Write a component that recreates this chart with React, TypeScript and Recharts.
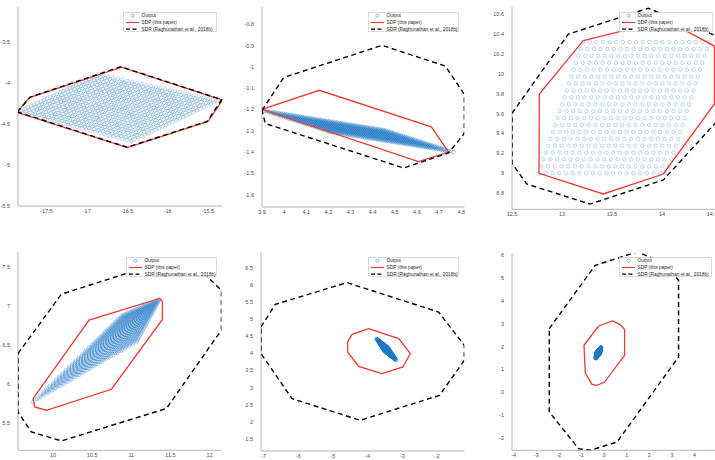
import { Scatter, ScatterChart, XAxis, YAxis } from 'recharts'

type Pt = [number, number]

// ---- panel 1 (top left)
const p1CloudCorners: Pt[] = [[-17.85, -4.355], [-16.45, -4.71], [-16.85, -3.9], [-15.38, -4.22]]
const p1CloudGrid = 26
const p1Sdp: Pt[] = [[-17.86, -4.36], [-17.71, -4.18], [-16.57, -3.81], [-15.32, -4.21], [-15.5, -4.47], [-16.5, -4.79]]
const p1Sdr: Pt[] = [[-17.86, -4.355], [-17.7, -4.175], [-16.58, -3.805], [-15.33, -4.205], [-15.51, -4.47], [-16.5, -4.785]]
const p1XTicks = [-17.5, -17, -16.5, -16, -15.5]
const p1YTicks = [-5.5, -5, -4.5, -4, -3.5]

// ---- panel 2 (top middle)
const p2CloudCorners: Pt[] = [[3.9, -1.203], [4.215, -1.308], [4.45, -1.295], [4.765, -1.4]]
const p2CloudGrid = 30
const p2Sdp: Pt[] = [[3.9, -1.2], [4.159, -1.11], [4.665, -1.282], [4.743, -1.4], [4.607, -1.445]]
const p2Sdr: Pt[] = [[3.9, -1.204], [3.998, -1.05], [4.442, -0.899], [4.728, -0.996], [4.814, -1.129], [4.814, -1.313], [4.743, -1.404], [4.54, -1.475], [3.915, -1.266]]
const p2XTicks = [3.9, 4, 4.1, 4.2, 4.3, 4.4, 4.5, 4.6, 4.7, 4.8]
const p2YTicks = [-1.6, -1.5, -1.4, -1.3, -1.2, -1.1, -1, -0.9, -0.8]

// ---- panel 3 (top right)
const p3CloudCorners: Pt[] = [[12.77, 9.0], [14.05, 9.0], [13.21, 10.32], [14.47, 10.32]]
const p3CloudGrid = 20
const p3Sdp: Pt[] = [[13.213, 10.334], [14.04, 10.54], [14.525, 10.28], [14.525, 9.7], [14.013, 8.993], [13.413, 8.792], [12.77, 9.0], [12.773, 9.798]]
const p3Sdr: Pt[] = [[12.5, 9.604], [13.063, 10.4], [13.863, 10.66], [14.62, 10.35], [14.62, 9.6], [14.013, 8.933], [13.28, 8.69], [12.647, 8.893], [12.5, 9.1]]
const p3XTicks = [12.5, 13, 13.5, 14, 14.5]
const p3YTicks = [8.8, 9, 9.2, 9.4, 9.6, 9.8, 10, 10.2, 10.4, 10.6]

// ---- panel 4 (bottom left)
const p4CloudCorners: Pt[] = [[9.745, 5.77], [11.065, 6.538], [10.873, 6.872], [11.363, 7.086]]
const p4CloudGrid = 28
const p4Sdp: Pt[] = [[9.745, 5.813], [10.46, 6.817], [11.363, 7.095], [11.397, 7.051], [11.397, 6.826], [10.746, 5.932], [9.915, 5.663], [9.766, 5.705]]
const p4Sdr: Pt[] = [[9.553, 6.39], [10.107, 7.15], [10.937, 7.415], [11.874, 7.467], [12.15, 7.2], [12.15, 6.69], [11.448, 5.685], [10.107, 5.27], [9.724, 5.385], [9.553, 5.64]]
const p4XTicks = [10, 10.5, 11, 11.5, 12]
const p4YTicks = [5.5, 6, 6.5, 7, 7.5]

// ---- panel 5 (bottom middle)
const p5CloudCorners: Pt[] = [[-3.75, 4.43], [-3.415, 4.165], [-3.515, 4.065], [-3.18, 3.8]]
const p5CloudGrid = 25
const p5Sdp: Pt[] = [[-3.971, 4.72], [-3.106, 4.43], [-2.772, 3.993], [-2.983, 3.603], [-3.588, 3.41], [-4.262, 3.622], [-4.579, 4.04], [-4.579, 4.33], [-4.452, 4.555]]
const p5Sdr: Pt[] = [[-7.075, 4.77], [-6.663, 5.43], [-4.597, 6.063], [-1.957, 5.205], [-1.216, 4.235], [-1.216, 3.797], [-1.928, 2.777], [-4.213, 2.048], [-6.182, 2.68], [-7.075, 3.993]]
const p5XTicks = [-7, -6, -5, -4, -3, -2]
const p5YTicks = [1.5, 2, 2.5, 3, 3.5, 4, 4.5, 5, 5.5, 6, 6.5]

// ---- panel 6 (bottom right)
const p6CloudCorners: Pt[] = [[-0.38, 1.48], [-0.185, 1.694], [-0.325, 1.766], [-0.13, 1.98]]
const p6CloudGrid = 25
const p6Sdp: Pt[] = [[-0.243, 2.903], [0.375, 3.122], [0.713, 2.964], [0.905, 2.745], [0.905, 1.62], [0.021, 0.45], [-0.315, 0.305], [-0.536, 0.35], [-0.832, 0.845], [-0.889, 2.058]]
const p6Sdr: Pt[] = [[-2.423, 2.79], [-0.39, 5.562], [1.453, 6.146], [2.558, 5.71], [3.29, 4.905], [3.29, 1.546], [0.569, -2.18], [-0.61, -2.54], [-1.127, -2.47], [-2.423, -0.86]]
const p6XTicks = [-4, -3, -2, -1, 0, 1, 2, 3, 4]
const p6YTicks = [-2, -1, 0, 1, 2, 3, 4, 5, 6]

const legendLabels = ['Output', 'SDP (this paper)', 'SDR (Raghunathan et al., 2018b)']

const RED = '#ee3a32'
const BLUE = '#1f77c4'
const FONT = '"Liberation Sans", Arial, sans-serif'

const rows = (pts: Pt[]) => pts.map(([x, y]) => ({ x, y }))
const closed = (pts: Pt[]) => rows([...pts, pts[0]])

function lattice(c: Pt[], n: number) {
  const out: { x: number; y: number }[] = []
  for (let i = 0; i < n; i++) {
    for (let j = 0; j < n; j++) {
      const u = i / (n - 1)
      const v = j / (n - 1)
      const w = [(1 - u) * (1 - v), u * (1 - v), (1 - u) * v, u * v]
      out.push({
        x: w[0] * c[0][0] + w[1] * c[1][0] + w[2] * c[2][0] + w[3] * c[3][0],
        y: w[0] * c[0][1] + w[1] * c[1][1] + w[2] * c[2][1] + w[3] * c[3][1],
      })
    }
  }
  return out
}

const ring = (p: any) => (
  <circle cx={p.cx} cy={p.cy} r={1.7} fill="none" stroke={BLUE} strokeWidth={0.5} strokeOpacity={0.6} />
)
const nothing = () => <g />

const YW = 30
const XH = 14
const MT = 4
const MR = 4

type PanelProps = {
  box: [number, number, number, number]
  xDomain: [number, number]
  yDomain: [number, number]
  xTicks: number[]
  yTicks: number[]
  corners: Pt[]
  grid: number
  sdp: Pt[]
  sdr: Pt[]
}

function Panel({ box, xDomain, yDomain, xTicks, yTicks, corners, grid, sdp, sdr }: PanelProps) {
  const [l, t, r, b] = box
  const width = r - l + YW + MR
  const height = b - t + MT + XH
  const tick = { fontSize: 5.5, fill: '#4d4d4d', fontFamily: FONT }
  return (
    <div style={{ position: 'absolute', left: l - YW, top: t - MT }}>
      <ScatterChart width={width} height={height} margin={{ top: MT, right: MR, bottom: 0, left: 0 }}>
        <XAxis
          type="number"
          dataKey="x"
          domain={xDomain}
          ticks={xTicks}
          allowDataOverflow
          interval={0}
          height={XH}
          stroke="#b5b5b5"
          tickLine={false}
          tickSize={2}
          tickMargin={1}
          tick={tick}
        />
        <YAxis
          type="number"
          dataKey="y"
          domain={yDomain}
          ticks={yTicks}
          allowDataOverflow
          interval={0}
          width={YW}
          stroke="#b5b5b5"
          tickLine={false}
          tickSize={5}
          tickMargin={3}
          tick={tick}
        />
        <Scatter data={lattice(corners, grid)} shape={ring} isAnimationActive={false} />
        <Scatter
          data={closed(sdp)}
          fill={RED}
          line={{ stroke: RED, strokeWidth: 1.3, fill: 'none' }}
          lineType="joint"
          shape={nothing}
          isAnimationActive={false}
        />
        <Scatter
          data={closed(sdr)}
          fill="#000"
          line={{ stroke: '#000', strokeWidth: 1.4, strokeDasharray: '5 3.5', fill: 'none' }}
          lineType="joint"
          shape={nothing}
          isAnimationActive={false}
        />
      </ScatterChart>
    </div>
  )
}

function Key({ left, top, width }: { left: number; top: number; width: number }) {
  const h = 20
  const ys = [3.7, 10.5, 17.2]
  return (
    <svg style={{ position: 'absolute', left, top }} width={width} height={h}>
      <rect x={0.5} y={0.5} width={width - 1} height={h - 1} fill="#fff" stroke="#c4c4c4" strokeWidth={0.6} />
      <circle cx={9.5} cy={ys[0]} r={1.6} fill="none" stroke={BLUE} strokeWidth={0.5} />
      <line x1={3} x2={16} y1={ys[1]} y2={ys[1]} stroke={RED} strokeWidth={1.2} />
      <line x1={3} x2={16} y1={ys[2]} y2={ys[2]} stroke="#000" strokeWidth={1.3} strokeDasharray="4 2.5" />
      {legendLabels.map((s, i) => (
        <text key={s} x={18.5} y={ys[i]} dy="0.35em" fontSize={4.8} fill="#262626" fontFamily={FONT}>
          {s}
        </text>
      ))}
    </svg>
  )
}

export default function App() {
  return (
    <div style={{ position: 'absolute', left: 0, top: 0, width: 715, height: 460, overflow: 'hidden', background: '#fff' }}>
      <Panel box={[18.3, 7, 222.7, 206]} xDomain={[-17.851, -15.322]} yDomain={[-5.5, -3.078]} xTicks={p1XTicks} yTicks={p1YTicks} corners={p1CloudCorners} grid={p1CloudGrid} sdp={p1Sdp} sdr={p1Sdr} />
      <Panel box={[261.7, 6.7, 464, 206.7]} xDomain={[3.9, 4.814]} yDomain={[-1.658, -0.719]} xTicks={p2XTicks} yTicks={p2YTicks} corners={p2CloudCorners} grid={p2CloudGrid} sdp={p2Sdp} sdr={p2Sdr} />
      <Panel box={[512.3, 7, 732.3, 209.3]} xDomain={[12.5, 14.7]} yDomain={[8.638, 10.673]} xTicks={p3XTicks} yTicks={p3YTicks} corners={p3CloudCorners} grid={p3CloudGrid} sdp={p3Sdp} sdr={p3Sdr} />
      <Panel box={[18.3, 251.7, 221.7, 450]} xDomain={[9.553, 12.15]} yDomain={[5.15, 7.69]} xTicks={p4XTicks} yTicks={p4YTicks} corners={p4CloudCorners} grid={p4CloudGrid} sdp={p4Sdp} sdr={p4Sdr} />
      <Panel box={[260.7, 251.7, 464, 450.7]} xDomain={[-7.075, -1.216]} yDomain={[1.153, 6.955]} xTicks={p5XTicks} yTicks={p5YTicks} corners={p5CloudCorners} grid={p5CloudGrid} sdp={p5Sdp} sdr={p5Sdr} />
      <Panel box={[511.7, 252.7, 721.5, 450]} xDomain={[-4.07, 5.2]} yDomain={[-2.54, 6.1]} xTicks={p6XTicks} yTicks={p6YTicks} corners={p6CloudCorners} grid={p6CloudGrid} sdp={p6Sdp} sdr={p6Sdr} />
      <Key left={123} top={12} width={94} />
      <Key left={368} top={12} width={91} />
      <Key left={619} top={12} width={94} />
      <Key left={126} top={257} width={91} />
      <Key left={368} top={257} width={91} />
      <Key left={619} top={257} width={93} />
    </div>
  )
}
